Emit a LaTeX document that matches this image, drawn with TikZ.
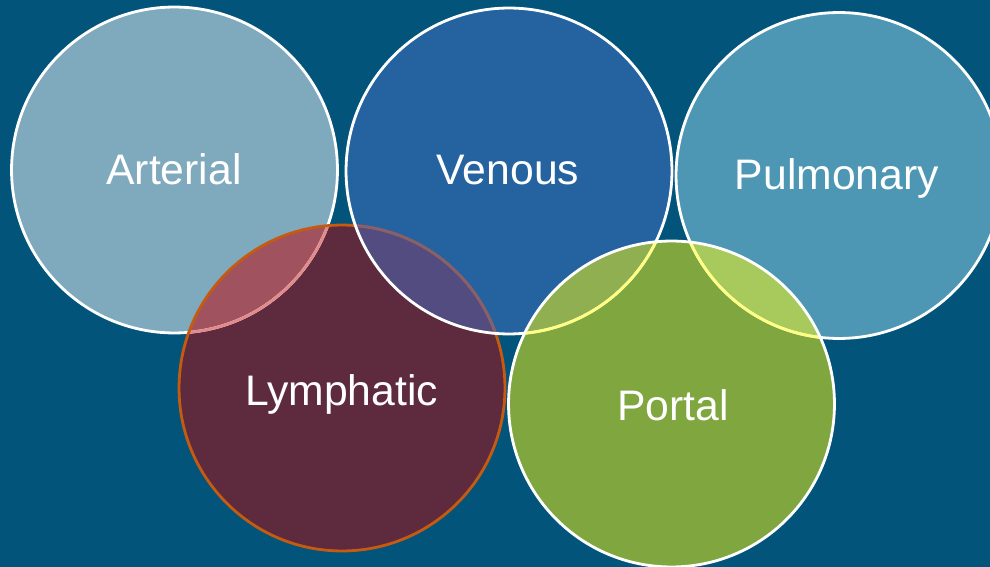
\documentclass[tikz,border=0pt]{standalone}
\usepackage{fontspec}
\setmainfont{Liberation Sans}
\definecolor{bgc}{HTML}{02547A}
\definecolor{artc}{HTML}{7FA9BD}
\definecolor{venc}{HTML}{2462A0}
\definecolor{pulc}{HTML}{4E97B4}
\definecolor{lymc}{HTML}{5E2A3E}
\definecolor{porc}{HTML}{80A63F}
\definecolor{artlym}{HTML}{A0535E}
\definecolor{lymven}{HTML}{524C80}
\definecolor{venpor}{HTML}{8FAF50}
\definecolor{porpul}{HTML}{A8C95C}
\definecolor{pinkb}{HTML}{E48A8A}
\definecolor{orangeb}{HTML}{C55A11}
\definecolor{fadedb}{HTML}{85606E}
\definecolor{yellowb}{HTML}{FFFF80}
\tikzset{
  lbl/.style={text=white, font=\fontsize{24.3}{28}\selectfont, inner sep=0pt, anchor=base},
  rim/.style={line width=1.6pt},
}
\def\R{3.26cm}
\begin{document}
\begin{tikzpicture}[x=0.02cm,y=-0.02cm]
\useasboundingbox (0,0) rectangle (990,567);
\clip (0,0) rectangle (990,567);
\fill[bgc] (0,0) rectangle (990,567);
\coordinate (A) at (174.5,170);
\coordinate (V) at (509,171);
\coordinate (P) at (839,175.5);
\coordinate (L) at (342,388);
\coordinate (O) at (671.5,404);
% fills
\fill[artc] (A) circle (\R);
\fill[venc] (V) circle (\R);
\fill[pulc] (P) circle (\R);
\fill[lymc] (L) circle (\R);
\fill[porc] (O) circle (\R);
% lens overlaps
\begin{scope}\clip (A) circle (\R); \fill[artlym] (L) circle (\R);\end{scope}
\begin{scope}\clip (V) circle (\R); \fill[lymven] (L) circle (\R);\end{scope}
\begin{scope}\clip (V) circle (\R); \fill[venpor] (O) circle (\R);\end{scope}
\begin{scope}\clip (P) circle (\R); \fill[porpul] (O) circle (\R);\end{scope}
% rims
\draw[rim, white] (A) circle (\R);
\begin{scope}\clip (L) circle (\R); \draw[rim, pinkb] (A) circle (\R);\end{scope}
\draw[rim, orangeb] (L) circle (\R);
\begin{scope}\clip (V) circle (\R); \draw[rim, fadedb] (L) circle (\R);\end{scope}
\draw[rim, white] (V) circle (\R);
\draw[rim, white] (P) circle (\R);
\begin{scope}\clip (O) circle (\R);
  \draw[rim, yellowb] (V) circle (\R);
  \draw[rim, yellowb] (P) circle (\R);
\end{scope}
\draw[rim, white] (O) circle (\R);
% labels
\node[lbl] (tA) at (174,185) {Arterial};
\node[lbl] (tV) at (508,185) {Venous};
\node[lbl] (tP) at (837,190) {Pulmonary};
\node[lbl] (tL) at (341.5,405) {Lymphatic};
\node[lbl] (tO) at (673,420) {Portal};
\end{tikzpicture}
\end{document}
